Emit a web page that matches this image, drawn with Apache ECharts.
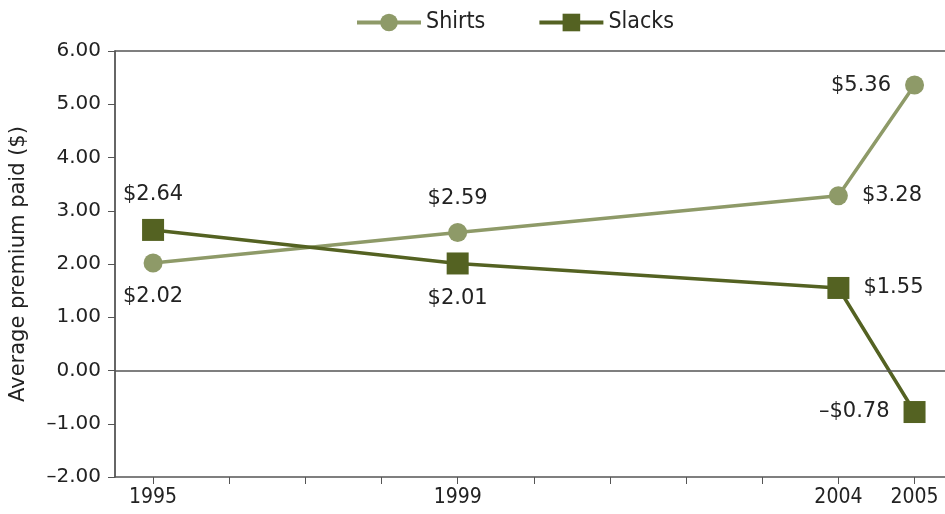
<!DOCTYPE html>
<html>
<head>
<meta charset="utf-8">
<script src="https://cdn.jsdelivr.net/npm/echarts@6/dist/echarts.min.js"></script>
<style>
  html, body { margin: 0; padding: 0; background: #fff; }
  #chart { width: 945px; height: 514px; }
</style>
</head>
<body>
<div id="chart"></div>
<script>
// data
var years = [1995, 1999, 2004, 2005];
var shirts = [2.02, 2.59, 3.28, 5.36];
var slacks = [2.64, 2.01, 1.55, -0.78];
var tickYears = [1995, 1996, 1997, 1998, 1999, 2000, 2001, 2002, 2003, 2004, 2005];
var labelYears = [1995, 1999, 2004, 2005];
var shirtsLabelPos = ["bottom", "top", "right", "left"];
var slacksLabelPos = ["top", "bottom", "right", "left"];

var shirtColor = "#8e9a68";
var slackColor = "#546222";
var font = "DejaVu Sans";

function money(v) {
  var s = "$" + Math.abs(v).toFixed(2);
  return v < 0 ? "\u2013" + s : s;
}

function build(vals, pos) {
  return vals.map(function (v, i) {
    return {
      value: [years[i], v],
      label: { position: pos[i] }
    };
  });
}

var dom = document.getElementById("chart");
var myChart = echarts.init(dom);
var option = {
  animation: false,
  textStyle: { fontFamily: font },
  grid: { left: 115, right: 0, top: 51, bottom: 37, outerBoundsMode: "none", containLabel: false },
  legend: {
    top: 6,
    left: 350,
    itemWidth: 64,
    itemHeight: 22,
    itemGap: 52,
    lineStyle: { width: 4 },
    textStyle: { fontFamily: "DejaVu Sans Condensed", fontSize: 23, color: "#222" },
    data: ["Shirts", "Slacks"]
  },
  xAxis: [
    {
      type: "value",
      min: 1994.5,
      max: 2005.4,
      splitLine: { show: false },
      axisLine: { onZero: false, lineStyle: { color: "#555", width: 1.5 } },
      axisTick: { customValues: tickYears, length: 7, lineStyle: { color: "#555" } },
      axisLabel: {
        customValues: labelYears,
        color: "#222",
        fontSize: 21,
        fontFamily: "DejaVu Sans Condensed",
        margin: 10,
        formatter: function (v) { return String(v); }
      }
    },
    {
      type: "value",
      position: "top",
      min: 1994.5,
      max: 2005.4,
      splitLine: { show: false },
      axisLine: { show: true, onZero: false, lineStyle: { color: "#555", width: 1.5 } },
      axisTick: { show: false },
      axisLabel: { show: false }
    }
  ],
  yAxis: {
    type: "value",
    min: -2,
    max: 6,
    interval: 1,
    name: "Average premium paid ($)",
    nameLocation: "middle",
    nameGap: 86,
    nameTextStyle: { fontSize: 21, color: "#222", fontFamily: font },
    splitLine: { show: false },
    axisLine: { show: true, lineStyle: { color: "#333", width: 1.5 } },
    axisTick: { show: true, length: 7, lineStyle: { color: "#555" } },
    axisLabel: {
      color: "#222",
      fontSize: 20,
      margin: 14,
      formatter: function (v) {
        var s = Math.abs(v).toFixed(2);
        return v < 0 ? "\u2013" + s : s;
      }
    }
  },
  series: [
    {
      name: "Shirts",
      type: "line",
      data: build(shirts, shirtsLabelPos),
      symbol: "circle",
      symbolSize: 19,
      lineStyle: { color: shirtColor, width: 3.5 },
      itemStyle: { color: shirtColor },
      label: {
        show: true,
        fontSize: 21,
        color: "#222",
        distance: 14,
        formatter: function (p) { return money(p.value[1]); }
      },
      markLine: {
        silent: true,
        symbol: "none",
        label: { show: false },
        lineStyle: { color: "#555", width: 1.5, type: "solid" },
        data: [{ yAxis: 0 }]
      },
      z: 3
    },
    {
      name: "Slacks",
      type: "line",
      data: build(slacks, slacksLabelPos),
      symbol: "rect",
      symbolSize: 22,
      lineStyle: { color: slackColor, width: 3.5 },
      itemStyle: { color: slackColor },
      label: {
        show: true,
        fontSize: 21,
        color: "#222",
        distance: 14,
        formatter: function (p) { return money(p.value[1]); }
      },
      z: 4
    }
  ]
};
myChart.setOption(option);
</script>
</body>
</html>
